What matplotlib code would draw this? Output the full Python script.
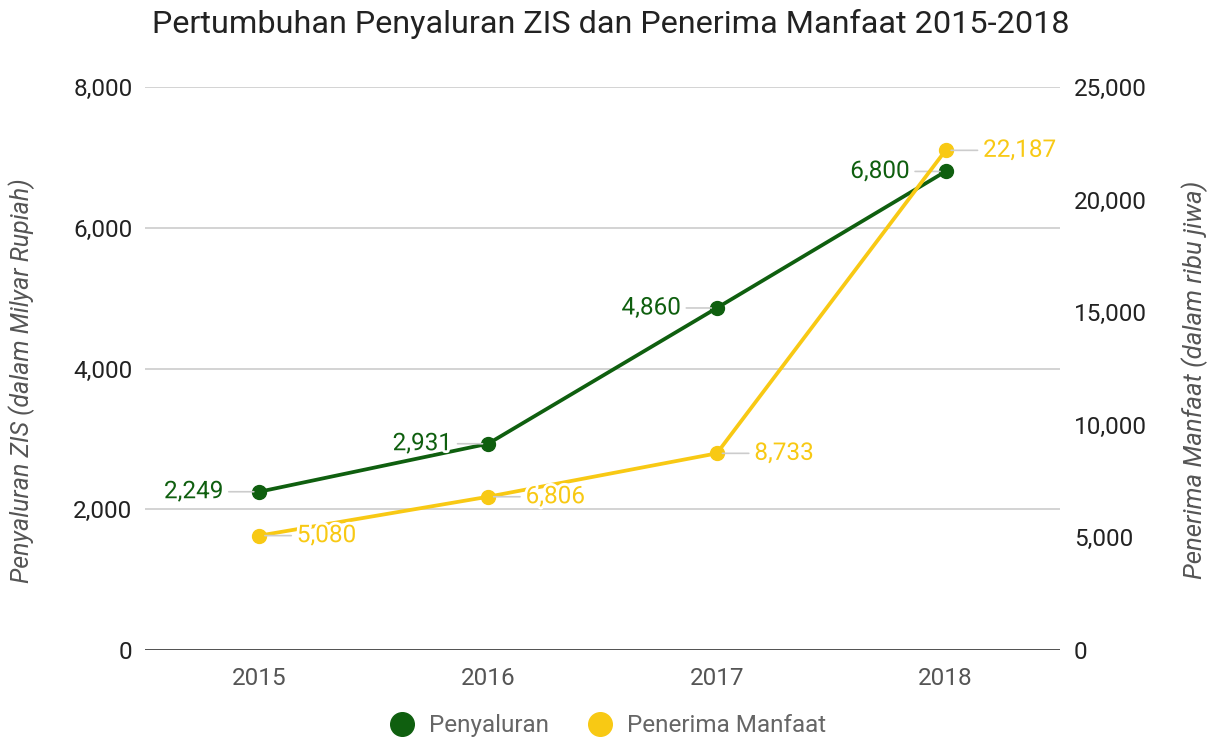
import matplotlib
matplotlib.use('Agg')
import matplotlib.pyplot as plt
import matplotlib.patheffects as pe
from matplotlib.lines import Line2D

plt.rcParams['font.family'] = ['Roboto', 'DejaVu Sans']

#####################################
# data
years = ['2015', '2016', '2017', '2018']
penyaluran = [2249, 2931, 4860, 6800]          # milyar rupiah
penerima = [5080, 6806, 8733, 22187]           # ribu jiwa
left_ticks = [0, 2000, 4000, 6000, 8000]
right_ticks = [0, 5000, 10000, 15000, 20000, 25000]
#####################################

green = '#0f5f0f'
yellow = '#f8c914'
halo = [pe.withStroke(linewidth=4, foreground='white')]

fig = plt.figure(figsize=(12.16, 7.39), dpi=100)
ax = fig.add_axes([0.1192, 0.1204, 0.7525, 0.7619])
ax2 = ax.twinx()

x = list(range(len(years)))

# grid (left axis only)
for t in left_ticks:
    if t == 0:
        ax.axhline(t, color='#333333', lw=1.2, zorder=1)
    else:
        ax.axhline(t, color='#cccccc', lw=1.2, zorder=1)

ax.plot(x, penyaluran, color=green, lw=2.7, marker='o', ms=10, zorder=3)
ax2.plot(x, penerima, color=yellow, lw=2.7, marker='o', ms=10, zorder=3)

# data labels
for xi, v in zip(x, penyaluran):
    ax.annotate(f'{v:,}', xy=(xi, v), xytext=(-26, 0), textcoords='offset points',
                ha='right', va='center', fontsize=17.5, color=green, path_effects=halo,
                arrowprops=dict(arrowstyle='-', color='#cccccc', lw=1.2,
                                shrinkA=2, shrinkB=4), zorder=4)
for xi, v in zip(x, penerima):
    ax2.annotate(f'{v:,}', xy=(xi, v), xytext=(27, 0), textcoords='offset points',
                 ha='left', va='center', fontsize=17.5, color=yellow, path_effects=halo,
                 arrowprops=dict(arrowstyle='-', color='#cccccc', lw=1.2,
                                 shrinkA=2, shrinkB=4), zorder=4)

ax.set_xlim(-0.5, 3.5)
ax.set_ylim(0, 8000)
ax2.set_ylim(0, 25000)
ax.set_xticks(x)
ax.set_xticklabels(years)
ax.set_yticks(left_ticks)
ax.set_yticklabels([f'{t:,}' for t in left_ticks])
ax2.set_yticks(right_ticks)
ax2.set_yticklabels([f'{t:,}' for t in right_ticks])

for a in (ax, ax2):
    for s in a.spines.values():
        s.set_visible(False)
    a.tick_params(length=0, labelsize=17.5)
ax.tick_params(axis='x', colors='#555555', pad=12)
ax.tick_params(axis='y', colors='#222222', pad=9)
ax2.tick_params(axis='y', colors='#222222', pad=10)

# axis titles placed in figure coords
fig.text(0.018, 0.4844, 'Penyaluran ZIS (dalam Milyar Rupiah)', fontsize=18,
         style='italic', color='#555555', rotation=90, ha='center', va='center')
fig.text(0.9827, 0.486, 'Penerima Manfaat (dalam ribu jiwa)', fontsize=18.5,
         style='italic', color='#555555', rotation=90, ha='center', va='center')

fig.suptitle('Pertumbuhan Penyaluran ZIS dan Penerima Manfaat 2015-2018',
             fontsize=23.3, color='#222222', x=0.502, y=0.988)

handles = [Line2D([], [], ls='', marker='o', ms=17, color=green),
           Line2D([], [], ls='', marker='o', ms=17, color=yellow)]
leg = fig.legend(handles, ['Penyaluran', 'Penerima Manfaat'], loc='center',
                 bbox_to_anchor=(0.5, 0.018), ncol=2, frameon=False, fontsize=17.5,
                 handletextpad=0.6, columnspacing=1.6, handlelength=1.0)
for t in leg.get_texts():
    t.set_color('#666666')

fig.savefig('out.png', dpi=100)
